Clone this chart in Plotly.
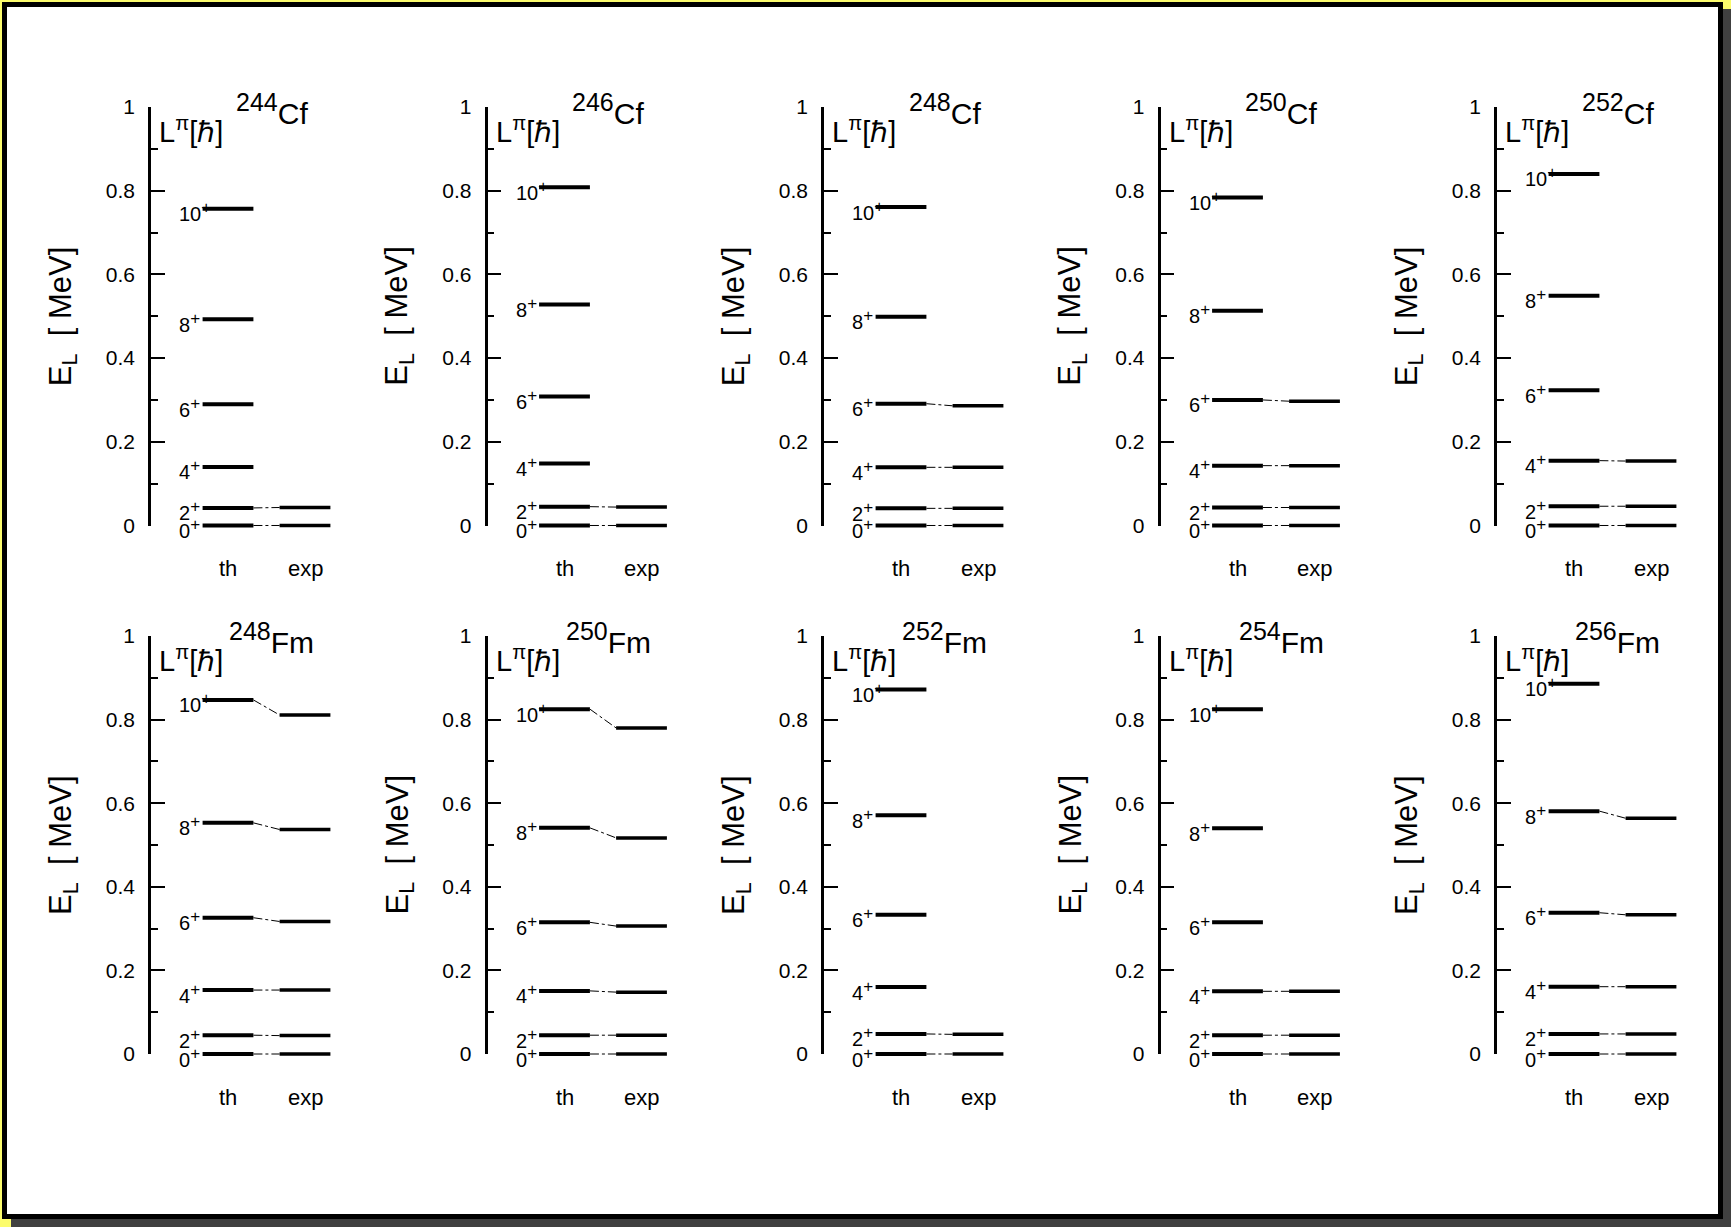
import plotly.graph_objects as go

# ---------------- data (MeV) ----------------
spins = [0, 2, 4, 6, 8, 10]

nuclei_mass = ["244", "246", "248", "250", "252", "248", "250", "252", "254", "256"]
nuclei_elem = ["Cf", "Cf", "Cf", "Cf", "Cf", "Fm", "Fm", "Fm", "Fm", "Fm"]

th_cf244 = [0.0, 0.042, 0.140, 0.290, 0.493, 0.757]
exp_cf244 = [0.0, 0.043]
th_cf246 = [0.0, 0.045, 0.148, 0.308, 0.528, 0.808]
exp_cf246 = [0.0, 0.044]
th_cf248 = [0.0, 0.041, 0.139, 0.291, 0.499, 0.761]
exp_cf248 = [0.0, 0.041, 0.139, 0.286]
th_cf250 = [0.0, 0.043, 0.143, 0.300, 0.513, 0.784]
exp_cf250 = [0.0, 0.043, 0.143, 0.297]
th_cf252 = [0.0, 0.046, 0.155, 0.323, 0.549, 0.840]
exp_cf252 = [0.0, 0.046, 0.154]
th_fm248 = [0.0, 0.045, 0.153, 0.326, 0.553, 0.847]
exp_fm248 = [0.0, 0.044, 0.153, 0.317, 0.537, 0.811]
th_fm250 = [0.0, 0.045, 0.151, 0.315, 0.541, 0.825]
exp_fm250 = [0.0, 0.045, 0.148, 0.306, 0.517, 0.780]
th_fm252 = [0.0, 0.048, 0.160, 0.333, 0.571, 0.872]
exp_fm252 = [0.0, 0.047]
th_fm254 = [0.0, 0.045, 0.150, 0.315, 0.540, 0.825]
exp_fm254 = [0.0, 0.045, 0.150]
th_fm256 = [0.0, 0.048, 0.161, 0.338, 0.581, 0.886]
exp_fm256 = [0.0, 0.048, 0.161, 0.333, 0.564]

th_sets = [th_cf244, th_cf246, th_cf248, th_cf250, th_cf252,
           th_fm248, th_fm250, th_fm252, th_fm254, th_fm256]
exp_sets = [exp_cf244, exp_cf246, exp_cf248, exp_cf250, exp_cf252,
            exp_fm248, exp_fm250, exp_fm252, exp_fm254, exp_fm256]

ytick_vals = [0, 0.2, 0.4, 0.6, 0.8, 1]
ytick_text = ["0", "0.2", "0.4", "0.6", "0.8", "1"]

# ---------------- layout geometry (pixels) ----------------
W, H = 1731, 1227
FONT = "Liberation Sans, Arial, Helvetica, sans-serif"
col_x0 = [151, 487.5, 824, 1160.5, 1497]
unit = 77.0          # px per x unit
row_top = [107, 636]  # y=1 pixel
row_bot = [525.5, 1054]  # y=0 pixel
TH_X, EXP_X, HW = 1.0, 2.0, 0.33
PAD = 0.03


def fx(p):
    return p / W


def fy(p):
    return 1 - p / H


fig = go.Figure()
annotations = []
layout_axes = {}

for k in range(10):
    r, c = divmod(k, 5)
    i = k + 1
    j = k + 11
    xn = "" if i == 1 else str(i)
    x0 = col_x0[c]
    yt, yb = row_top[r], row_bot[r]
    h = yb - yt
    xdom = [fx(x0), fx(x0 + 3 * unit)]
    ydom = [fy(yb), fy(yt)]
    # frame axes
    layout_axes["xaxis" + xn] = dict(domain=xdom, range=[0, 3], visible=False,
                                     fixedrange=True, anchor="y" + xn,
                                     automargin=False)
    layout_axes["yaxis" + xn] = dict(
        domain=ydom, range=[0, 1], anchor="x" + xn, showline=True,
        linecolor="black", linewidth=2.5, ticks="inside", ticklen=14,
        tickwidth=2, tickcolor="black", tickvals=ytick_vals, ticktext=ytick_text,
        ticklabelstandoff=9, showgrid=False, zeroline=False, fixedrange=True,
        automargin=False,
        tickfont=dict(family=FONT, size=21, color="black"),
        minor=dict(ticks="inside", ticklen=7, tickwidth=2, tickcolor="black",
                   tick0=0, dtick=0.1, showgrid=False))
    # data axes (same scale, slightly larger domain so thick lines are not clipped)
    ydom2 = [fy(yb + PAD * h), fy(yt - PAD * h)]
    layout_axes["yaxis" + str(j)] = dict(domain=ydom2, range=[-PAD, 1 + PAD],
                                         anchor="x" + xn, visible=False,
                                         fixedrange=True, automargin=False)

    th = th_sets[k]
    ex = exp_sets[k]
    # theory levels
    xs, ys = [], []
    for e in th:
        xs += [TH_X - HW, TH_X + HW, None]
        ys += [e, e, None]
    fig.add_trace(go.Scatter(x=xs, y=ys, mode="lines", xaxis="x" + xn,
                             yaxis="y" + str(j), showlegend=False,
                             line=dict(color="black", width=4), hoverinfo="skip"))
    # experimental levels
    xs, ys = [], []
    for e in ex:
        xs += [EXP_X - HW, EXP_X + HW, None]
        ys += [e, e, None]
    fig.add_trace(go.Scatter(x=xs, y=ys, mode="lines", xaxis="x" + xn,
                             yaxis="y" + str(j), showlegend=False,
                             line=dict(color="black", width=3.5), hoverinfo="skip"))
    # connectors
    xs, ys = [], []
    for a, b in zip(th, ex):
        xs += [TH_X + HW, EXP_X - HW, None]
        ys += [a, b, None]
    fig.add_trace(go.Scatter(x=xs, y=ys, mode="lines", xaxis="x" + xn,
                             yaxis="y" + str(j), showlegend=False,
                             line=dict(color="black", width=1, dash="dashdot"),
                             hoverinfo="skip"))

    # level labels
    for L, e in zip(spins, th):
        annotations.append(dict(x=0.34, y=e, xref="x" + xn, yref="y" + xn,
                                text=f"{L}<sup><span style='font-size:17px'>+</span></sup>",
                                showarrow=False,
                                xanchor="left", yanchor="middle", yshift=-3,
                                font=dict(family=FONT, size=20, color="black")))
    # th / exp  (domain refs: below the axis range)
    for xv, t in [(TH_X, "th"), (EXP_X, "exp")]:
        annotations.append(dict(x=xv / 3, y=-0.103, xref="x" + xn + " domain",
                                yref="y" + xn + " domain",
                                text=t, showarrow=False, xanchor="center",
                                yanchor="middle",
                                font=dict(family=FONT, size=22, color="black")))
    # nucleus title
    annotations.append(dict(x=1.57 / 3, y=0.995, xref="x" + xn + " domain",
                            yref="y" + xn + " domain",
                            text=f"<sup><span style='font-size:25px'>{nuclei_mass[k]}</span></sup>{nuclei_elem[k]}",
                            showarrow=False, xanchor="center", yanchor="middle",
                            font=dict(family=FONT, size=30, color="black")))
    # L^pi [hbar]
    annotations.append(dict(x=0.08 / 3, y=0.945, xref="x" + xn + " domain",
                            yref="y" + xn + " domain",
                            text="L<sup>π</sup>[ℏ]", showarrow=False,
                            xanchor="left", yanchor="middle",
                            font=dict(family=FONT, size=29, color="black")))
    # y title
    annotations.append(dict(x=fx(x0 - 88), y=(ydom[0] + ydom[1]) / 2,
                            xref="paper", yref="paper",
                            text="E<sub>L</sub>\u00a0\u00a0[\u00a0MeV]", textangle=-90,
                            showarrow=False, xanchor="center", yanchor="middle",
                            font=dict(family=FONT, size=31, color="black")))

shapes = [
    dict(type="rect", xref="paper", yref="paper", layer="below",
         x0=fx(11), x1=fx(W), y0=fy(H), y1=fy(9),
         fillcolor="#404040", line=dict(width=0)),
    dict(type="rect", xref="paper", yref="paper", layer="below",
         x0=fx(4.5), x1=fx(1720.5), y0=fy(1216.5), y1=fy(4.5),
         fillcolor="white", line=dict(color="black", width=5)),
]

fig.update_layout(
    template="none",
    width=W, height=H, autosize=False,
    margin=dict(l=0, r=0, t=0, b=0, pad=0, autoexpand=False),
    paper_bgcolor="#fcfc6c", plot_bgcolor="rgba(0,0,0,0)",
    shapes=shapes, annotations=annotations, showlegend=False,
    font=dict(family=FONT, color="black"),
    **layout_axes,
)

fig.write_html("out.html", config={"displayModeBar": False})
